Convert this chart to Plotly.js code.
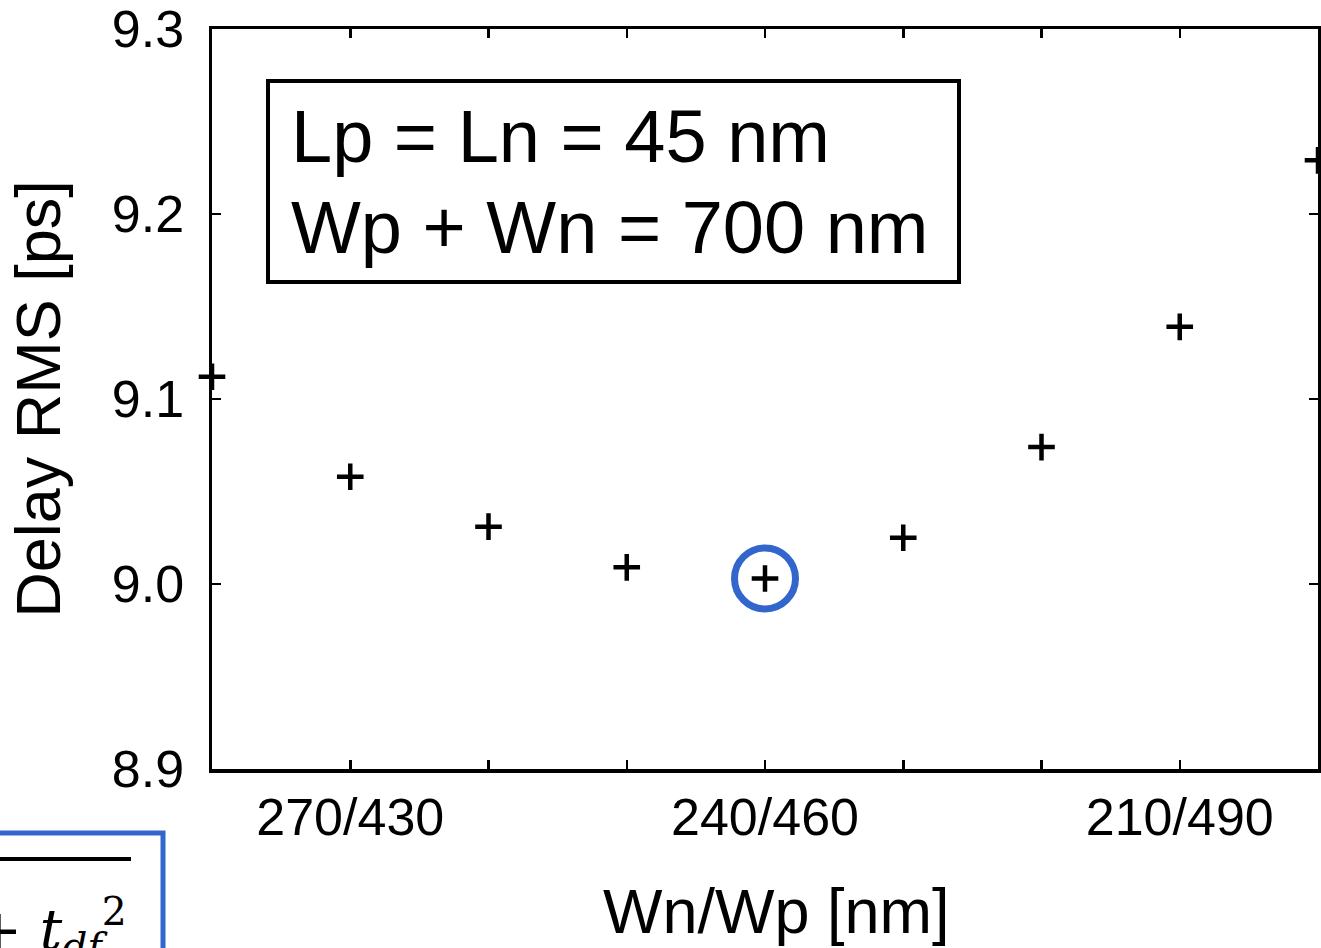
<!DOCTYPE html>
<html>
<head>
<meta charset="utf-8">
<script src="https://cdn.plot.ly/plotly-3.0.1.min.js"></script>
<style>html,body{margin:0;padding:0;background:#fff;}#chart{width:1321px;height:948px;}</style>
</head>
<body>
<div id="chart"></div>
<script>
// Wn/Wp combinations (Wp + Wn = 700 nm)
var categories = ["280/420", "270/430", "260/440", "250/450", "240/460", "230/470", "220/480", "210/490", "200/500"];
var delayRMS = [9.112, 9.058, 9.031, 9.009, 9.003, 9.025, 9.074, 9.139, 9.229];
var tickLabels = ["", "270/430", "", "", "240/460", "", "", "210/490", ""];
var yTicks = [8.9, 9.0, 9.1, 9.2, 9.3];
var optimumIndex = 4;
var boxLines = ["Lp = Ln = 45 nm", "Wp + Wn = 700 nm"];
var xTitle = "Wn/Wp [nm]";
var yTitle = "Delay RMS [ps]";

var W = 1321, H = 948;
var mL = 212, mR = 3, mT = 29, mB = 179;
var pw = W - mL - mR, ph = H - mT - mB;
function px(X) { return (X - mL) / pw; }
function py(Y) { return (H - mB - Y) / ph; }

var traces = [
  {
    x: [categories[optimumIndex]],
    y: [delayRMS[optimumIndex]],
    type: "scatter",
    mode: "markers",
    marker: { symbol: "circle-open", size: 61, color: "#3366cc", line: { width: 7, color: "#3366cc" } },
    cliponaxis: false,
    hoverinfo: "skip"
  },
  {
    x: categories,
    y: delayRMS,
    type: "scatter",
    mode: "markers",
    marker: { symbol: "cross-thin", size: 19, color: "#000", line: { width: 4.5, color: "#000" } },
    cliponaxis: false
  }
];

var axisFont = { family: "Liberation Sans, Arial, sans-serif", size: 52, color: "#000" };
var titleFont = { family: "Liberation Sans, Arial, sans-serif", size: 63, color: "#000" };

var layout = {
  width: W, height: H,
  margin: { l: mL, r: mR, t: mT, b: mB, pad: 0 },
  paper_bgcolor: "#fff", plot_bgcolor: "#fff",
  showlegend: false,
  xaxis: {
    type: "category",
    categoryorder: "array",
    categoryarray: categories,
    range: [0, categories.length - 1],
    tickmode: "array",
    tickvals: categories,
    ticktext: tickLabels,
    ticks: "inside", ticklen: 9, tickwidth: 2.5, tickcolor: "#000",
    showline: true, linewidth: 3.5, linecolor: "#000", mirror: "ticks",
    showgrid: false, zeroline: false,
    tickfont: axisFont,
    ticklabelstandoff: 0,
    automargin: false, fixedrange: true
  },
  yaxis: {
    range: [8.9, 9.3],
    tickmode: "array",
    tickvals: yTicks,
    ticktext: yTicks.map(function (v) { return v.toFixed(1); }),
    ticks: "inside", ticklen: 9, tickwidth: 2.5, tickcolor: "#000",
    showline: true, linewidth: 3.5, linecolor: "#000", mirror: "ticks",
    showgrid: false, zeroline: false,
    tickfont: axisFont,
    ticklabelstandoff: 14,
    title: { text: yTitle, font: titleFont, standoff: 32 },
    automargin: false, fixedrange: true
  },
  shapes: [
    { type: "rect", xref: "paper", yref: "paper", x0: px(268), x1: px(959), y0: py(282), y1: py(81),
      line: { color: "#000", width: 4 }, fillcolor: "rgba(0,0,0,0)", layer: "above" },
    { type: "rect", xref: "paper", yref: "paper", x0: px(-30), x1: px(163), y0: py(990), y1: py(833),
      line: { color: "#3366cc", width: 5 }, fillcolor: "rgba(0,0,0,0)", layer: "above" },
    { type: "line", xref: "paper", yref: "paper", x0: px(-10), x1: px(131), y0: py(859), y1: py(859),
      line: { color: "#000", width: 4 }, layer: "above" }
  ],
  annotations: [
    { xref: "paper", yref: "paper", x: px(776), y: py(911), xanchor: "center", yanchor: "middle",
      text: xTitle, showarrow: false, font: titleFont },
    { xref: "paper", yref: "paper", x: px(289), y: py(136.5), xanchor: "left", yanchor: "middle",
      text: boxLines[0], showarrow: false, font: { family: "Liberation Sans, Arial, sans-serif", size: 74, color: "#000" } },
    { xref: "paper", yref: "paper", x: px(289), y: py(227.5), xanchor: "left", yanchor: "middle",
      text: boxLines[1], showarrow: false, font: { family: "Liberation Sans, Arial, sans-serif", size: 74, color: "#000" } },
    { xref: "paper", yref: "paper", x: px(129), y: py(929), xanchor: "right", yanchor: "middle",
      text: "+ <i>t</i><sub><i>df</i></sub><sup>2</sup>", showarrow: false,
      font: { family: "DejaVu Serif, serif", size: 56, color: "#000" } }
  ]
};

Plotly.newPlot("chart", traces, layout, { displayModeBar: false, staticPlot: true });
</script>
</body>
</html>
